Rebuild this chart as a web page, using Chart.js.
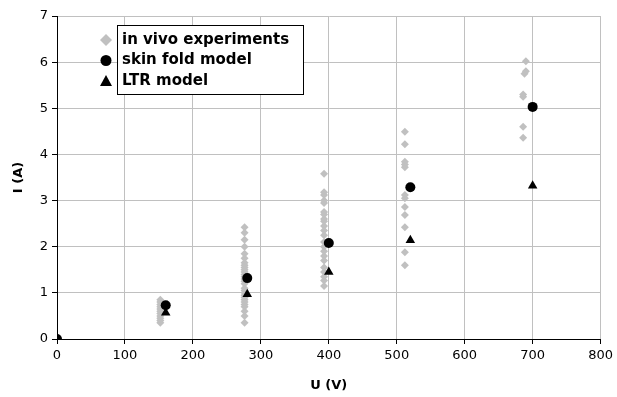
<!DOCTYPE html>
<html>
<head>
<meta charset="utf-8">
<script src="https://cdn.jsdelivr.net/npm/chart.js@4/dist/chart.umd.min.js"></script>
<style>
    html, body { margin: 0; padding: 0; background: #fff; }
    #wrap { width: 617px; height: 397px; }
</style>
</head>
<body>
<div id="wrap"><canvas id="chart"></canvas></div>
<script>
// in vivo measurements, grouped by voltage
var expU = [0,
    152, 152, 152, 152, 152, 152, 152, 152, 152, 152, 152,
    276, 276, 276, 276, 276, 276, 276, 276, 276, 276, 276, 276, 276, 276, 276, 276, 276, 276, 276, 276, 276, 276, 276, 276, 276, 276, 276, 276,
    393, 393, 393, 393, 393, 393, 393, 393, 393, 393, 393, 393, 393, 393, 393, 393, 393, 393, 393, 393, 393, 393,
    512, 512, 512, 512, 512, 512, 512, 512, 512, 512, 512, 512,
    690, 690, 688, 686, 686, 686, 686];
var expI = [0,
    0.85, 0.8, 0.75, 0.7, 0.65, 0.6, 0.55, 0.5, 0.45, 0.4, 0.35,
    2.42, 2.3, 2.15, 2.0, 1.85, 1.75, 1.65, 1.6, 1.55, 1.5, 1.45, 1.4, 1.35, 1.3, 1.25, 1.2, 1.1, 1.05, 1.0, 0.95, 0.9, 0.85, 0.8, 0.75, 0.7, 0.6, 0.5, 0.35,
    3.58, 3.18, 3.12, 3.0, 2.95, 2.75, 2.7, 2.6, 2.55, 2.45, 2.35, 2.25, 2.1, 2.0, 1.9, 1.8, 1.7, 1.55, 1.45, 1.35, 1.27, 1.15,
    4.49, 4.22, 3.84, 3.78, 3.72, 3.12, 3.05, 2.86, 2.69, 2.42, 1.88, 1.6,
    6.02, 5.8, 5.75, 5.3, 5.25, 4.6, 4.36];

var skinU = [0, 160, 280, 400, 520, 700];
var skinI = [0, 0.73, 1.32, 2.08, 3.29, 5.03];

var ltrU = [0, 160, 280, 400, 520, 700];
var ltrI = [0, 0.57, 0.97, 1.45, 2.14, 3.32];

var xTicks = [0, 100, 200, 300, 400, 500, 600, 700, 800];
var yTicks = [0, 1, 2, 3, 4, 5, 6, 7];

var legendLabels = ['in vivo experiments', 'skin fold model', 'LTR model'];

function toPoints(xs, ys) {
    var pts = [];
    for (let i = 0; i < xs.length; i++) {
        pts.push({ x: xs[i], y: ys[i] });
    }
    return pts;
}

var FONT = "'DejaVu Sans', Verdana, sans-serif";

// legend sits inside the plot, markers outside the framed box
var boxLegend = {
    id: 'boxLegend',
    afterDraw: function(chart) {
        var c = chart.ctx;
        var a = chart.chartArea;
        var bx = a.left + 60, by = a.top + 9, bw = 186, bh = 69;
        var rowH = 20.5;
        c.save();
        c.fillStyle = '#fff';
        c.fillRect(bx, by, bw, bh);
        c.strokeStyle = '#000';
        c.lineWidth = 1;
        c.strokeRect(bx + 0.5, by + 0.5, bw, bh);
        c.font = 'bold 15px ' + FONT;
        c.textBaseline = 'middle';
        c.textAlign = 'left';
        for (let i = 0; i < legendLabels.length; i++) {
            var ty = by + 15 + i * rowH;
            var mx = bx - 11;
            var ds = chart.data.datasets[i];
            c.fillStyle = ds.backgroundColor;
            c.beginPath();
            if (i == 0) {
                c.moveTo(mx, ty - 6); c.lineTo(mx + 6, ty); c.lineTo(mx, ty + 6); c.lineTo(mx - 6, ty);
            } else if (i == 1) {
                c.arc(mx, ty, 5.5, 0, Math.PI * 2);
            } else {
                c.moveTo(mx, ty - 6); c.lineTo(mx + 6, ty + 5); c.lineTo(mx - 6, ty + 5);
            }
            c.closePath();
            c.fill();
            c.fillStyle = '#000';
            c.fillText(legendLabels[i], bx + 5, ty);
        }
        c.restore();
    }
};

var ctx = document.getElementById('chart').getContext('2d');
var chart = new Chart(ctx, {
    type: 'scatter',
    data: {
        datasets: [{
            label: legendLabels[0],
            data: toPoints(expU, expI),
            pointStyle: 'rectRot',
            pointRadius: 4,
            backgroundColor: '#c0c0c0',
            borderColor: '#c0c0c0',
            borderWidth: 0,
            order: 3
        }, {
            label: legendLabels[1],
            data: toPoints(skinU, skinI),
            pointStyle: 'circle',
            pointRadius: 5,
            backgroundColor: '#000',
            borderColor: '#000',
            borderWidth: 0,
            order: 2
        }, {
            label: legendLabels[2],
            data: toPoints(ltrU, ltrI),
            pointStyle: 'triangle',
            pointRadius: 5.5,
            backgroundColor: '#000',
            borderColor: '#000',
            borderWidth: 0,
            order: 1
        }]
    },
    options: {
        responsive: true,
        maintainAspectRatio: false,
        animation: false,
        layout: {
            padding: { left: 0, right: 13, top: 16, bottom: 0 }
        },
        plugins: {
            legend: { display: false },
            tooltip: { enabled: false }
        },
        scales: {
            x: {
                type: 'linear',
                min: 0,
                max: 800,
                afterBuildTicks: function(scale) {
                    scale.ticks = xTicks.map(function(v) { return { value: v }; });
                },
                afterFit: function(scale) { scale.height = 58; },
                grid: { color: '#c0c0c0', tickColor: '#000', tickLength: 5 },
                border: { color: '#000', width: 1 },
                ticks: { color: '#000', font: { family: FONT, size: 13 }, padding: 4, maxRotation: 0 },
                title: {
                    display: true,
                    text: 'U (V)',
                    color: '#000',
                    font: { family: FONT, size: 13, weight: 'bold' },
                    padding: { top: 0, bottom: 4 }
                }
            },
            y: {
                type: 'linear',
                min: 0,
                max: 7,
                afterBuildTicks: function(scale) {
                    scale.ticks = yTicks.map(function(v) { return { value: v }; });
                },
                afterFit: function(scale) { scale.width = 57; },
                grid: { color: '#c0c0c0', tickColor: '#000', tickLength: 5 },
                border: { color: '#000', width: 1 },
                ticks: { color: '#000', font: { family: FONT, size: 13 }, padding: 4 },
                title: {
                    display: true,
                    text: 'I (A)',
                    color: '#000',
                    font: { family: FONT, size: 13, weight: 'bold' },
                    padding: { top: 11, bottom: 0 }
                }
            }
        }
    },
    plugins: [boxLegend]
});
</script>
</body>
</html>
